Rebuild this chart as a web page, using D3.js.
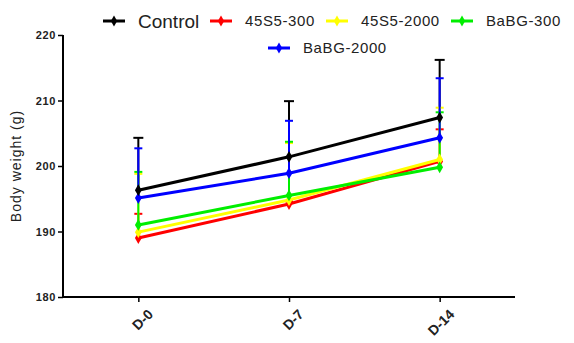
<!DOCTYPE html>
<html>
<head>
<meta charset="UTF-8">
<script src="https://cdn.jsdelivr.net/npm/d3@7"></script>
<style>
  body { margin: 0; background: #fff; }
  text { font-family: Arial, "Liberation Sans", sans-serif; }
</style>
</head>
<body>
<div id="chart"></div>
<script>
    var days = ["D-0", "D-7", "D-14"];
    var groups = ["Control", "45S5-300", "45S5-2000", "BaBG-300", "BaBG-2000"];
    var colors = ["#000000", "#ff0000", "#ffff00", "#00ee00", "#0000ff"];
    // mean weight per day
    var control = [196.3, 201.4, 207.4];
    var s45_300 = [189.0, 194.2, 200.7];
    var s45_2000 = [189.9, 194.8, 201.0];
    var babg_300 = [191.0, 195.5, 199.8];
    var babg_2000 = [195.1, 198.9, 204.3];
    // top of the error bar
    var controlErr = [204.3, 209.9, 216.2];
    var s45_300Err = [192.7, 194.6, 205.6];
    var s45_2000Err = [198.8, 203.5, 208.9];
    var babg_300Err = [199.1, 203.7, 208.2];
    var babg_2000Err = [202.7, 206.9, 213.4];
    var yTicks = [180, 190, 200, 210, 220];

    var means = [control, s45_300, s45_2000, babg_300, babg_2000];
    var errs = [controlErr, s45_300Err, s45_2000Err, babg_300Err, babg_2000Err];

    var width = 574, height = 343;
    var svg = d3.select("#chart").append("svg").attr("width", width).attr("height", height);

    var x = d3.scalePoint().domain(days).range([63, 515]).padding(0.5);
    var y = d3.scaleLinear().domain([180, 220]).range([297, 35]);

    // axes
    var yAxis = svg.append("g").attr("transform", "translate(63,0)")
        .call(d3.axisLeft(y).tickValues(yTicks).tickSize(5).tickPadding(2));
    yAxis.select(".domain").attr("stroke-width", 2).attr("d", "M0," + y(220) + "V" + y(180));
    yAxis.selectAll(".tick line").attr("stroke-width", 1.5);
    yAxis.selectAll("text").attr("font-size", "11px").attr("font-weight", "bold")
        .attr("letter-spacing", "0.6px").attr("fill", "#222");

    var xAxis = svg.append("g").attr("transform", "translate(0,297)")
        .call(d3.axisBottom(x).tickSize(5));
    xAxis.select(".domain").attr("stroke-width", 2).attr("d", "M63,0H515");
    xAxis.selectAll(".tick line").attr("stroke-width", 1.5);
    xAxis.selectAll("text")
        .attr("font-size", "14px").attr("font-weight", "bold").attr("fill", "#222")
        .attr("text-anchor", "end").attr("dy", "0.35em")
        .attr("transform", "translate(6,9) rotate(-45)");

    svg.append("text")
        .attr("transform", "translate(21,166) rotate(-90)")
        .attr("text-anchor", "middle")
        .attr("font-size", "14px").attr("letter-spacing", "1px").attr("fill", "#222")
        .text("Body weight (g)");

    var line = d3.line().x(function(d, i) { return x(days[i]); }).y(function(d) { return y(d); });

    // error bars (upper side only), behind the lines
    for (var g = 0; g < groups.length; g++) {
        var eg = svg.append("g");
        days.forEach(function(day, i) {
            eg.append("line").attr("x1", x(day)).attr("x2", x(day))
                .attr("y1", y(errs[g][i])).attr("y2", y(means[g][i]))
                .attr("stroke", colors[g]).attr("stroke-width", 2);
            var cw = g === 0 ? 5 : 4;
            eg.append("line").attr("x1", x(day) - cw).attr("x2", x(day) + cw)
                .attr("y1", y(errs[g][i])).attr("y2", y(errs[g][i]))
                .attr("stroke", colors[g]).attr("stroke-width", 2);
        });
    }

    var drawOrder = [1, 2, 3, 4, 0];
    drawOrder.forEach(function(g) {
        svg.append("path").datum(means[g]).attr("d", line)
            .attr("fill", "none").attr("stroke", colors[g]).attr("stroke-width", 3);
        svg.selectAll(null).data(means[g]).enter().append("path")
            .attr("transform", function(d, i) { return "translate(" + x(days[i]) + "," + y(d) + ")"; })
            .attr("d", d3.symbol().type(d3.symbolDiamond).size(40))
            .attr("fill", colors[g]);
    });

    // legend
    var legendPos = [
        { x: 103, y: 21, size: 19, ls: 0 },
        { x: 210, y: 21, size: 15, ls: 0.6 },
        { x: 326, y: 21, size: 15, ls: 0.6 },
        { x: 451, y: 21, size: 15, ls: 0.6 },
        { x: 268, y: 48, size: 15, ls: 0.6 }
    ];
    groups.forEach(function(name, g) {
        var p = legendPos[g];
        var lg = svg.append("g").attr("transform", "translate(" + p.x + "," + p.y + ")");
        lg.append("line").attr("x1", 0).attr("x2", 22).attr("stroke", colors[g]).attr("stroke-width", 3);
        lg.append("path").attr("transform", "translate(11,0)")
            .attr("d", d3.symbol().type(d3.symbolDiamond).size(35)).attr("fill", colors[g]);
        lg.append("text").attr("x", 35).attr("dy", "0.35em")
            .attr("font-size", p.size + "px").attr("letter-spacing", p.ls + "px")
            .attr("fill", "#222").text(name);
    });
</script>
</body>
</html>
